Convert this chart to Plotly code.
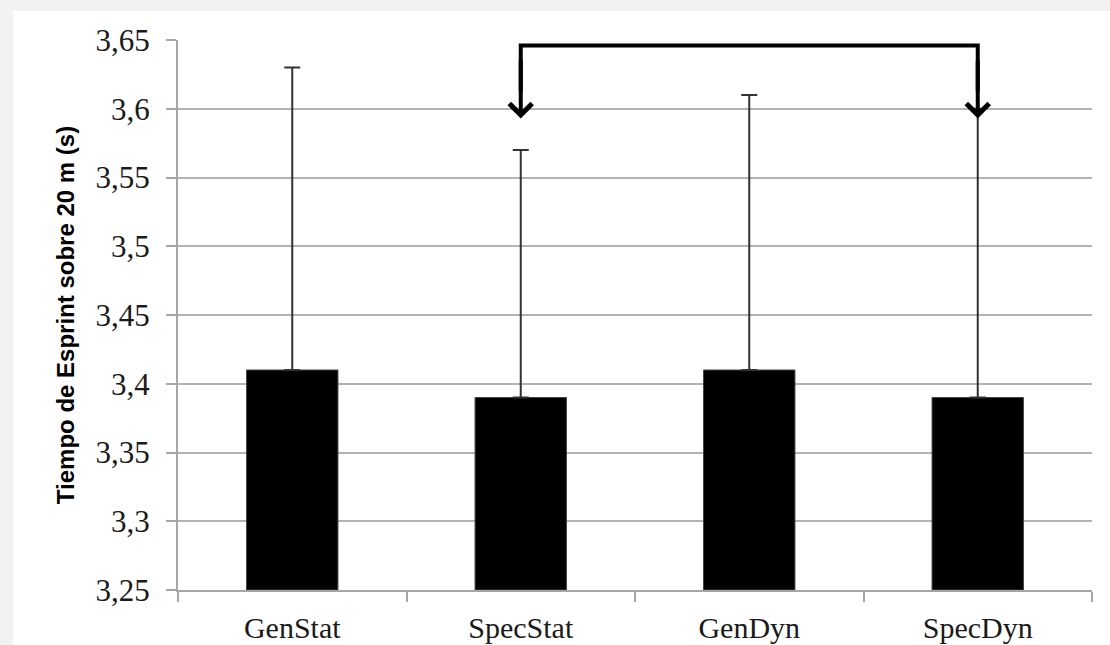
import plotly.graph_objects as go

categories = ["GenStat", "SpecStat", "GenDyn", "SpecDyn"]
means = [3.41, 3.39, 3.41, 3.39]
upper = [3.63, 3.57, 3.61, 3.60]
err_plus = [u - m for u, m in zip(upper, means)]
err_minus = [0, 0, 0, 0]

y_ticks = [3.25, 3.3, 3.35, 3.4, 3.45, 3.5, 3.55, 3.6, 3.65]
y_ticktext = ["3,25", "3,3", "3,35", "3,4", "3,45", "3,5", "3,55", "3,6", "3,65"]

bracket_from = "SpecStat"
bracket_to = "SpecDyn"
bracket_level = 3.646
arrow_tip = 3.593

fig = go.Figure()
fig.add_trace(go.Bar(
    x=categories, y=[m - 3.25 for m in means], base=3.25,
    marker=dict(color="#000000", line=dict(color="#444444", width=1)),
    error_y=dict(type="data", symmetric=False, array=err_plus, arrayminus=err_minus,
                 color="#333333", thickness=2, width=8),
    showlegend=False,
))

fig.add_trace(go.Scatter(
    x=[bracket_from, bracket_from, bracket_to, bracket_to],
    y=[arrow_tip + 0.02, bracket_level, bracket_level, arrow_tip + 0.02],
    mode="lines", line=dict(color="#000000", width=4), showlegend=False, hoverinfo="skip",
))
i0 = categories.index(bracket_from)
i1 = categories.index(bracket_to)
for i in (i0, i1):
    fig.add_annotation(x=i, y=arrow_tip, ax=i, ay=bracket_level - 0.01,
                       xref="x", yref="y", axref="x", ayref="y",
                       showarrow=True, arrowhead=4, arrowsize=1.1, arrowwidth=4,
                       arrowcolor="#000000", text="")

fig.add_shape(type="rect", xref="paper", yref="paper",
              x0=-0.1805, x1=1.2, y0=-0.3, y1=1.0527,
              fillcolor="white", line=dict(width=0), layer="below")

fig.update_layout(
    width=1110, height=645,
    margin=dict(l=178, r=18, t=40, b=55),
    paper_bgcolor="#f2f2f2", plot_bgcolor="white",
    bargap=0.6,
    xaxis=dict(
        type="category", range=[-0.5, 3.5],
        showline=True, linecolor="#a6a6a6", linewidth=2,
        ticks="outside", tickson="boundaries", ticklen=10, tickcolor="#a6a6a6", tickwidth=2,
        tickfont=dict(family="Liberation Serif", size=30, color="#1a1a1a"),
        ticklabelstandoff=10, showgrid=False, automargin=False,
    ),
    yaxis=dict(
        range=[3.25, 3.65], tickvals=y_ticks, ticktext=y_ticktext,
        showline=True, linecolor="#a6a6a6", linewidth=2,
        ticks="outside", ticklen=10, tickcolor="#a6a6a6", tickwidth=2,
        showgrid=True, gridcolor="#b3b3b3", gridwidth=2,
        tickfont=dict(family="Liberation Serif", size=31, color="#1a1a1a"),
        ticklabelstandoff=10, zeroline=False,
        title=dict(text="Tiempo de Esprint sobre 20 m (s)",
                   font=dict(family="Liberation Sans", size=24, color="#000000", weight="bold"),
                   standoff=14),
        automargin=False,
    ),
)

fig.write_html("out.html", config={"displayModeBar": False},
               post_script="document.body.style.margin='0';document.body.style.background='#f2f2f2';document.body.style.overflow='hidden';")
